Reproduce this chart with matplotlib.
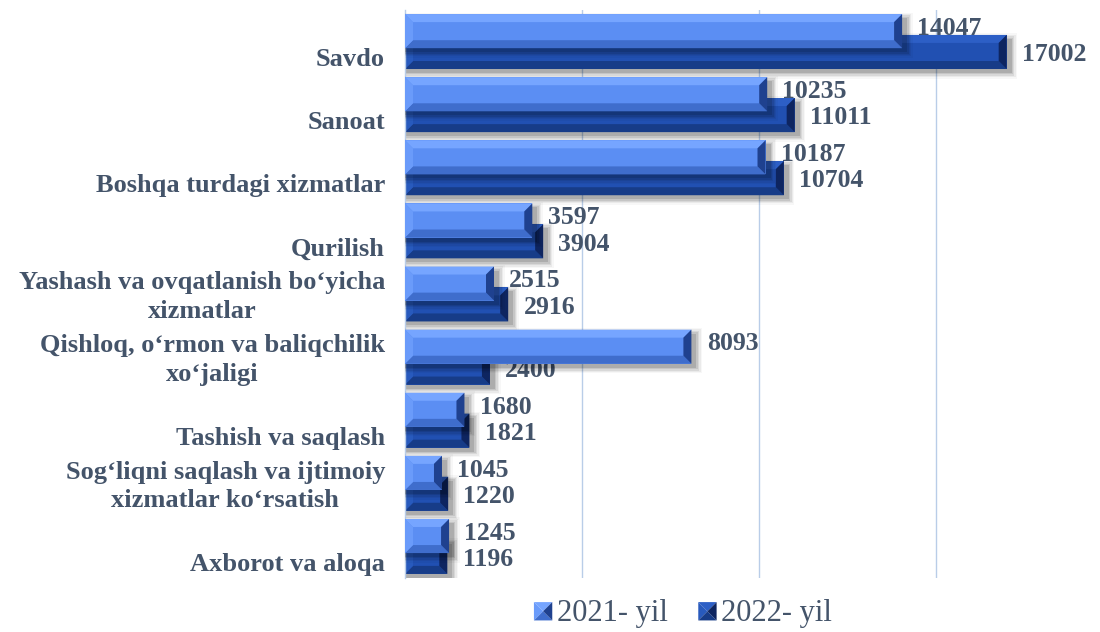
import matplotlib
matplotlib.use("Agg")
import matplotlib.pyplot as plt
from matplotlib.patches import Polygon, Rectangle
from matplotlib.legend_handler import HandlerBase
from matplotlib.transforms import ScaledTranslation
import numpy as np

# ---------------- data ----------------
categories = [
    "Savdo",
    "Sanoat",
    "Boshqa turdagi xizmatlar",
    "Qurilish",
    "Yashash va ovqatlanish bo\u2018yicha\nxizmatlar",
    "Qishloq, o\u2018rmon va baliqchilik\nxo\u2018jaligi",
    "Tashish va saqlash",
    "Sog\u2018liqni saqlash va ijtimoiy\nxizmatlar ko\u2018rsatish",
    "Axborot va aloqa",
]
values_2021 = [14047, 10235, 10187, 3597, 2515, 8093, 1680, 1045, 1245]
values_2022 = [17002, 11011, 10704, 3904, 2916, 2400, 1821, 1220, 1196]
series_labels = ["2021- yil", "2022- yil"]
grid_ticks = [5000, 10000, 15000]

# ---------------- style ----------------
TXT = "#44546A"
GRID = "#B9CDE8"
SERIF = ["Liberation Serif", "DejaVu Serif"]
pal_2021 = dict(face="#5B8EF3", top="#76A5FF", left="#6A9BFA",
                bottom="#3F6DCC", right="#1F418F")
pal_2022 = dict(face="#2150B2", top="#2D5FC6", left="#285ABD",
                bottom="#173C88", right="#0E2560")

W_PX, H_PX = 1100, 632
fig = plt.figure(figsize=(W_PX / 100, H_PX / 100), dpi=100)
L, R, T, B = 405, 1065, 10, 578
ax = fig.add_axes([L / W_PX, 1 - B / H_PX, (R - L) / W_PX, (B - T) / H_PX])
xmax = 18650
n = len(categories)
ax.set_xlim(0, xmax)
ax.set_ylim(n - 0.5, -0.5)
dx = xmax / (R - L)          # data units per pixel (x)
dy = n / (B - T)             # data units per pixel (y)

for s in ["top", "right", "bottom"]:
    ax.spines[s].set_visible(False)
ax.spines["left"].set_color(GRID)
ax.spines["left"].set_linewidth(1.0)
ax.set_xticks(grid_ticks)
ax.set_xticklabels([])
ax.tick_params(axis="x", length=0)
ax.xaxis.grid(True, color=GRID, linewidth=1.0)
ax.set_axisbelow(True)
ax.set_yticks(range(n))
ax.set_yticklabels([])
ax.tick_params(axis="y", length=0)

ypos = np.arange(n)
off = 0.165
h = 0.54
bev = 8  # px


def draw_bars(vals, centers, pal, z):
    # soft shadow (offset right / down)
    for k, a in enumerate([0.12, 0.09, 0.07, 0.05, 0.03]):
        grow = k * 1.4
        for v, c in zip(vals, centers):
            ax.add_patch(Rectangle((0, c - h / 2 + (4 - grow) * dy),
                                   v + (5 + grow) * dx, h + 2 * grow * dy,
                                   facecolor="black", alpha=a, lw=0, zorder=z))
    ax.barh(centers, vals, height=h, color=pal["face"], lw=0, zorder=z + 0.1)
    for v, c in zip(vals, centers):
        y0, y1 = c - h / 2, c + h / 2
        bx = min(bev * dx, v / 2.2)
        by = bev * dy
        polys = [
            ([(0, y0), (v, y0), (v - bx, y0 + by), (bx, y0 + by)], pal["top"]),
            ([(0, y1), (v, y1), (v - bx, y1 - by), (bx, y1 - by)], pal["bottom"]),
            ([(0, y0), (0, y1), (bx, y1 - by), (bx, y0 + by)], pal["left"]),
            ([(v, y0), (v, y1), (v - bx, y1 - by), (v - bx, y0 + by)], pal["right"]),
        ]
        for pts, col in polys:
            ax.add_patch(Polygon(pts, closed=True, facecolor=col, lw=0, zorder=z + 0.2))


def draw_labels(vals, centers, z, dy_pt):
    for v, c in zip(vals, centers):
        t = ax.text(v, c, f"{v}", ha="left", va="center", fontsize=18.5,
                    fontweight="bold", color=TXT, family=SERIF, zorder=z)
        t.set_transform(ax.transData + ScaledTranslation(11 / 72, -dy_pt / 72, fig.dpi_scale_trans))


draw_bars(values_2022, ypos + off, pal_2022, 2)
draw_labels(values_2022, ypos + off, 2.5, 2)
draw_bars(values_2021, ypos - off, pal_2021, 3)
draw_labels(values_2021, ypos - off, 3.5, -2)

# category labels
for i, lab in enumerate(categories):
    single = "\n" not in lab
    shift_px = 18 if single else 3
    t = ax.text(0, i, lab, ha="right", va="center", multialignment="center",
                fontsize=19, fontweight="bold", color=TXT, family=SERIF,
                linespacing=1.3)
    t.set_transform(ax.transData + ScaledTranslation(-20 / 100, -shift_px / 100, fig.dpi_scale_trans))


# legend with bevelled square markers
class BevelHandler(HandlerBase):
    def __init__(self, pal):
        super().__init__()
        self.pal = pal

    def create_artists(self, legend, orig_handle, xd, yd, width, height, fontsize, trans):
        s = min(width, height)
        x0 = -xd + (width - s)
        y0 = -yd
        cx, cy = x0 + s / 2, y0 + s / 2
        p = self.pal
        tris = [
            ([(x0, y0 + s), (x0 + s, y0 + s), (cx, cy)], p["top"]),
            ([(x0, y0), (x0, y0 + s), (cx, cy)], p["left"]),
            ([(x0, y0), (x0 + s, y0), (cx, cy)], p["bottom"]),
            ([(x0 + s, y0), (x0 + s, y0 + s), (cx, cy)], p["right"]),
        ]
        return [Polygon(pts, closed=True, facecolor=col, lw=0, transform=trans)
                for pts, col in tris]


h1 = Rectangle((0, 0), 1, 1)
h2 = Rectangle((0, 0), 1, 1)
leg = fig.legend([h1, h2], series_labels, loc="center",
                 bbox_to_anchor=(683 / W_PX, 1 - 614 / H_PX), ncol=2, frameon=False,
                 handler_map={h1: BevelHandler(pal_2021), h2: BevelHandler(pal_2022)},
                 prop={"family": SERIF, "size": 22}, handlelength=0.6,
                 handleheight=0.6, handletextpad=0.15, columnspacing=1.0,
                 borderaxespad=0, borderpad=0)
for t in leg.get_texts():
    t.set_color(TXT)

fig.savefig("out.png", dpi=100)
